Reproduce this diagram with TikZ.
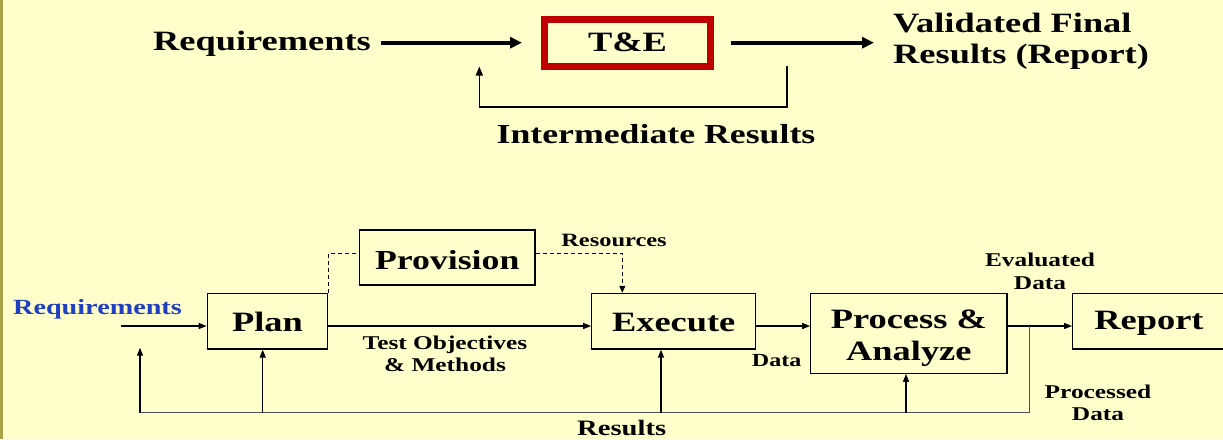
\documentclass[tikz,border=0pt]{standalone}
\usepackage{fontspec}
\setmainfont{Liberation Serif}
\newfontfamily\wf[FakeStretch=1.3]{Liberation Serif}
\usetikzlibrary{arrows.meta}
\definecolor{bgc}{HTML}{FFFFCC}
\definecolor{edgec}{HTML}{A5A548}
\definecolor{tered}{HTML}{C00000}
\definecolor{reqblue}{HTML}{2040C0}
\definecolor{fbgray}{HTML}{505050}
\tikzset{
  txt/.style={inner sep=0pt, font=\wf\bfseries\fontsize{#1}{#1}\selectfont},
  mtxt/.style={inner sep=0pt, align=center, font=\wf\bfseries\fontsize{19.5}{22.3}\selectfont},
  blk/.style={draw=black, line width=1.2pt, fill=bgc, inner sep=0pt, font=\wf\bfseries\fontsize{28}{32}\selectfont, align=center},
  bigarr/.style={line width=4pt, -{Triangle[length=12pt,width=11pt]}},
  fbarr/.style={line width=1.6pt, -{Triangle[length=9pt,width=7pt]}},
  arr/.style={line width=1.4pt, -{Triangle[length=8pt,width=6pt]}},
  dsh/.style={line width=0.9pt, dash pattern=on 4pt off 3pt},
  fbline/.style={line width=1.2pt, draw=fbgray},
}
\begin{document}
\begin{tikzpicture}[x=1pt,y=-1pt]
\clip (0,0) rectangle (1223,439);
\fill[bgc] (0,0) rectangle (1223,439);
\fill[edgec] (0,0) rectangle (2.5,439);
% ---------- top ----------
\node[txt=28] (reqT) at (262,44) {Requirements};
\node[draw=tered, line width=7pt, minimum width=166pt, minimum height=47pt, inner sep=0pt, font=\wf\bfseries\fontsize{28}{28}\selectfont] (te) at (627.5,42.7) {T\&E};
\node[txt=28, anchor=west, align=left, font=\wf\bfseries\fontsize{28}{31.5}\selectfont] (valT) at (893,41.5) {Validated Final\\Results (Report)};
\node[txt=27.5] (interT) at (656,134) {Intermediate Results};
\draw[bigarr, shorten <=10pt, shorten >=19pt] (reqT.east |- te.west) -- (te.west);
\draw[bigarr, shorten <=17pt, shorten >=19pt] (te.east) -- (valT.west |- te.east);
\coordinate (fb1) at (786.7,66);
\coordinate (fbB) at (633,106.7);
\coordinate (fb2) at (479.3,66.5);
\draw[fbarr] (fb1) |- (fbB) -| (fb2);
% ---------- bottom ----------
\coordinate (row) at (0,326);
\coordinate (dashy) at (0,253.3);
\node[blk, minimum width=120.4pt, minimum height=55.7pt] (plan) at (267.5,321.2) {\rule{0pt}{21pt}Plan};
\node[blk, minimum width=175.7pt, minimum height=55pt, font=\wf\bfseries\fontsize{27.5}{27.5}\selectfont] (prov) at (447.2,257.5) {\rule{0pt}{24.5pt}Provision};
\node[blk, minimum width=164pt, minimum height=55.7pt] (exec) at (673.7,321.2) {\rule{0pt}{21.5pt}Execute};
\node[blk, minimum width=196.3pt, minimum height=80pt] (proc) at (908.85,333.3) {\rule{0pt}{29pt}Process \&\\Analyze};
\node[blk, minimum width=152.6pt, minimum height=55.7pt] (rep) at (1149,321.2) {\rule{0pt}{23pt}Report};
\node[txt=21.7, text=reqblue] (reqB) at (97.5,309) {Requirements};
\node[txt=18.8] (resL) at (614,240) {Resources};
\node[mtxt] (toL) at (445,354) {Test Objectives\\\& Methods};
\node[txt=18.5] (dataL) at (776.7,361) {Data};
\node[mtxt] (evL) at (1040,271.3) {Evaluated\\Data};
\node[mtxt] (prL) at (1098,403) {Processed\\Data};
\node[txt=22] (resB) at (621.7,427.5) {Results};
% input and main flow
\coordinate (reqin) at (120.7,326);
\draw[arr] (reqin) -- (plan.west |- reqin);
\draw[arr] (plan.east |- row) -- (exec.west |- row);
\draw[arr] (exec.east |- row) -- (proc.west |- row);
\draw[arr] (proc.east |- row) -- (rep.west |- row);
% dashed provisioning
\coordinate (resx) at (622.3,0);
\draw[dsh] (plan.north east) |- (prov.west |- dashy);
\draw[dsh, -{Triangle[length=7pt,width=6pt]}] (prov.east |- dashy) -| (exec.north -| resx);
% results feedback
\coordinate (fbl) at (140,412.7);
\coordinate (tap) at (1029.3,326);
\coordinate (fbltip) at (140,347.7);
\coordinate (planx) at (262.7,0);
\coordinate (execx) at (661,0);
\coordinate (procx) at (906,0);
\draw[fbline] (fbl) -| (tap);
\draw[arr] (fbl) -- (fbltip);
\draw[arr] (fbl -| planx) -- (plan.south -| planx);
\draw[arr] (fbl -| execx) -- (exec.south -| execx);
\draw[arr] (fbl -| procx) -- (proc.south -| procx);
\end{tikzpicture}
\end{document}
